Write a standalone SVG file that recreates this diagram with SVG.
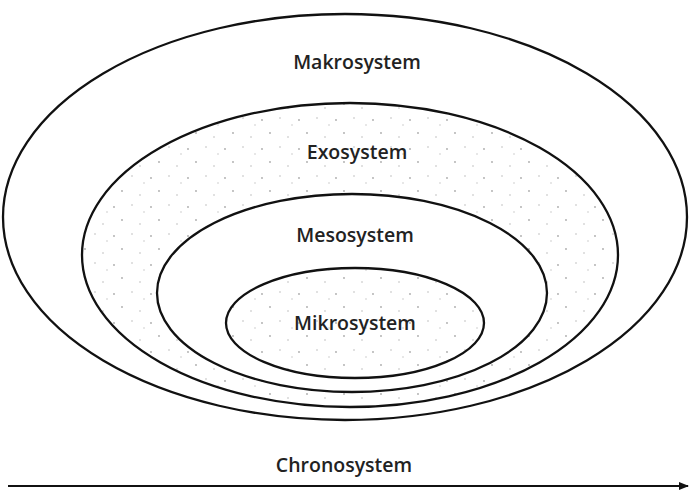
<svg xmlns="http://www.w3.org/2000/svg" width="691" height="496" viewBox="0 0 691 496">
<style>
.ring{stroke:#111;stroke-width:2.3;}
.lbl{font-family:"Open Sans","Noto Sans","Liberation Sans",sans-serif;font-weight:600;font-size:19.5px;fill:#222;text-anchor:middle;}
</style>
<defs>
<pattern id="dots" width="37" height="29" patternUnits="userSpaceOnUse">
<circle cx="3" cy="4" r="0.9" fill="#aaa"/>
<circle cx="21" cy="2" r="0.8" fill="#bbb"/>
<circle cx="11" cy="17" r="0.9" fill="#aaa"/>
<circle cx="29" cy="21" r="0.8" fill="#bbb"/>
<circle cx="33" cy="9" r="0.7" fill="#bbb"/>
</pattern>
<marker id="arr" markerWidth="10" markerHeight="10" refX="9" refY="5" orient="auto" markerUnits="userSpaceOnUse">
<path d="M0,1 L10,5 L0,9 Z" fill="#111"/>
</marker>
</defs>
<rect width="691" height="496" fill="#fff"/>
<g id="makrosystem">
<ellipse class="ring" cx="345" cy="217" rx="342" ry="203" fill="#fff"/>
<text class="lbl" x="357" y="69">Makrosystem</text>
</g>
<g id="exosystem">
<ellipse class="ring" cx="350" cy="255" rx="268" ry="152" fill="url(#dots)"/>
<text class="lbl" x="357" y="159">Exosystem</text>
</g>
<g id="mesosystem">
<ellipse class="ring" cx="352" cy="293" rx="195" ry="99" fill="#fff"/>
<text class="lbl" x="355" y="242">Mesosystem</text>
</g>
<g id="mikrosystem">
<ellipse class="ring" cx="355" cy="323" rx="129" ry="55" fill="url(#dots)"/>
<text class="lbl" x="355" y="330">Mikrosystem</text>
</g>
<g id="connectors">
<line x1="8" y1="486" x2="688" y2="486" stroke="#111" stroke-width="2" marker-end="url(#arr)"/>
</g>
<g id="chronosystem">
<text class="lbl" x="344" y="472">Chronosystem</text>
</g>
</svg>
